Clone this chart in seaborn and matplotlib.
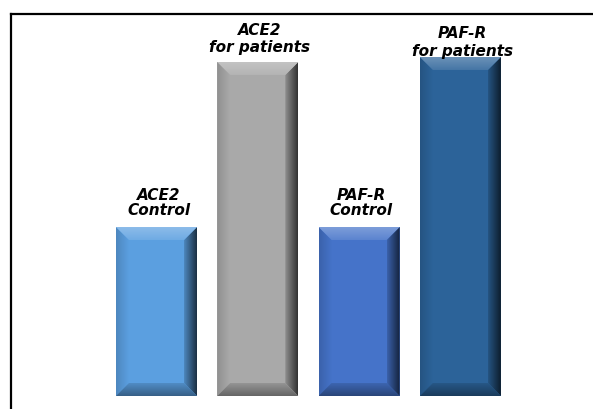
import numpy as np
import pandas as pd
import matplotlib
matplotlib.use("Agg")
import matplotlib.pyplot as plt
import seaborn as sns
from matplotlib.patches import Polygon
from matplotlib.colors import to_rgb

# Expression levels of the two receptors in controls and in patients
groups = ["ACE2\nControl", "ACE2\nfor patients", "PAF-R\nControl", "PAF-R\nfor patients"]
values = [169, 334, 169, 339]
colors = ["#5b9fe0", "#a9a9a9", "#4573c9", "#2c6399"]

sns.set_theme(style="white")
plt.rcParams["font.family"] = ["DejaVu Sans"]

fig = plt.figure(figsize=(5.93, 4.09), dpi=100)
ax = fig.add_axes([11 / 593, 0, 582 / 593, 395 / 409])

df = pd.DataFrame({"group": groups, "value": values})
sns.barplot(data=df, x="group", y="value", hue="group", palette=colors,
            saturation=1, width=0.8, legend=False, ax=ax, edgecolor="none")

XLIM = (-1.436, 4.309)
YLIM = (-13, 382)
ax.set_xlim(*XLIM)
ax.set_ylim(*YLIM)


def shade(c, f):
    """Lighten (f > 0) towards white or darken (f < 0) towards black."""
    c = np.array(to_rgb(c))
    return c + (1 - c) * f if f >= 0 else c * (1 + f)


def gradient_poly(verts, c0, c1, direction, extent):
    poly = Polygon(verts, closed=True, facecolor="none", edgecolor="none")
    ax.add_patch(poly)
    t = np.linspace(0, 1, 64)[:, None]
    cols = np.clip(np.array(c0)[None, :] * (1 - t) + np.array(c1)[None, :] * t, 0, 1)
    img = cols[None, :, :] if direction == "h" else cols[:, None, :]
    im = ax.imshow(img, extent=extent, origin="lower", aspect="auto",
                   interpolation="bilinear", zorder=3)
    im.set_clip_path(poly)


# pixel sizes of the bevel converted to data units
px_x = (XLIM[1] - XLIM[0]) / 582
px_y = (YLIM[1] - YLIM[0]) / 395
bev = 13
dx, dy = bev * px_x, bev * px_y

bars = [p for p in ax.patches]
for bar, col in zip(bars, colors):
    x, y = bar.get_x(), bar.get_y()
    w, h = bar.get_width(), bar.get_height()
    x1, y1 = x + w, y + h
    # left side
    gradient_poly([(x, y), (x + dx, y + dy), (x + dx, y1 - dy), (x, y1)],
                  shade(col, -0.15), shade(col, 0.0), "h", (x, x + dx, y, y1))
    # right side
    gradient_poly([(x1, y), (x1 - dx, y + dy), (x1 - dx, y1 - dy), (x1, y1)],
                  shade(col, -0.15), shade(col, -0.7), "h", (x1 - dx, x1, y, y1))
    # top bevel
    gradient_poly([(x, y1), (x1, y1), (x1 - dx, y1 - dy), (x + dx, y1 - dy)],
                  shade(col, 0.12), shade(col, 0.3), "v", (x, x1, y1 - dy, y1))
    # bottom bevel
    gradient_poly([(x, y), (x1, y), (x1 - dx, y + dy), (x + dx, y + dy)],
                  shade(col, -0.4), shade(col, -0.12), "v", (x, x1, y, y + dy))

ax.set_xlim(*XLIM)
ax.set_ylim(*YLIM)

# category labels above each bar
label_offsets = [6.8, 5.0, 6.8, -1.2]
label_spacing = [0.95, 1.2, 0.95, 1.2]
for bar, text, off, ls in zip(bars, groups, label_offsets, label_spacing):
    cx = bar.get_x() + bar.get_width() / 2
    ax.annotate(text, xy=(cx, bar.get_height()), xytext=(1.5, off),
                textcoords="offset points", ha="center", va="bottom",
                fontsize=11, fontweight="bold", fontstyle="italic",
                linespacing=ls, color="black", zorder=5, multialignment="center")

for side in ["right", "bottom"]:
    ax.spines[side].set_visible(False)
for side in ["top", "left"]:
    ax.spines[side].set_visible(True)
    ax.spines[side].set_color("black")
    ax.spines[side].set_linewidth(1.6)
ax.set_xticks([])
ax.set_yticks([])
ax.set_xlabel("")
ax.set_ylabel("")
ax.set_facecolor("white")
fig.patch.set_facecolor("white")

fig.savefig("out.png", dpi=100)
